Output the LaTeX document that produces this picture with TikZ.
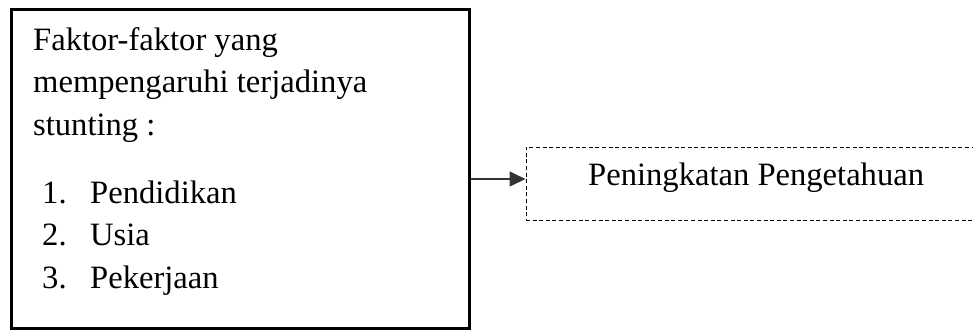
\documentclass[tikz,border=0pt]{standalone}
\usepackage{fontspec}
\setmainfont{Liberation Serif}
\usetikzlibrary{arrows.meta}
\begin{document}
\begin{tikzpicture}[x=1pt,y=-1pt,
  outerbox/.style={draw=black,line width=3.2pt,minimum width=458pt,minimum height=319pt,inner sep=0pt},
  dashbox/.style={draw=black,line width=1pt,dash pattern=on 4pt off 2.6pt,minimum width=449pt,minimum height=73pt,inner sep=0pt},
  txt/.style={anchor=base west,inner sep=0pt,font=\fontsize{32.6}{40}\selectfont},
  conn/.style={draw=black!80,line width=1.4pt,-{Triangle[length=16pt,width=15pt]}}]
\clip (0,0) rectangle (973,330);
\node[outerbox] (L) at (240.5,168.7) {};
\node[dashbox] (R) at (750.5,183.5) {};
\node[txt] (t1) at (33,50) {Faktor-faktor yang};
\node[txt] (t2) at (33,92.5) {mempengaruhi terjadinya};
\node[txt] (t3) at (33,135) {stunting :};
\node[txt] (n1) at (42,203) {1.};
\node[txt] (i1) at (90,203) {Pendidikan};
\node[txt] (n2) at (42,245.5) {2.};
\node[txt] (i2) at (90,245.5) {Usia};
\node[txt] (n3) at (42,288) {3.};
\node[txt] (i3) at (90,288) {Pekerjaan};
\node[txt] (rt) at (588,185) {Peningkatan Pengetahuan};
\coordinate (a) at (L.east |- 0,179);
\coordinate (b) at (R.west |- 0,179);
\draw[conn] (a) -- (b);
\end{tikzpicture}
\end{document}
